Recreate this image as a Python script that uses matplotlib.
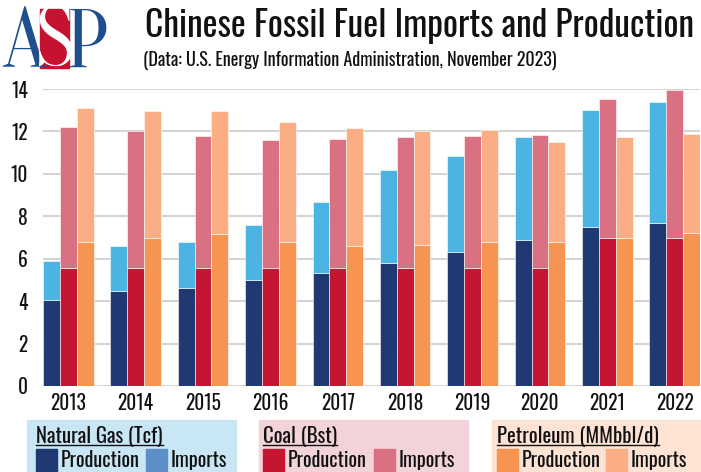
import matplotlib.pyplot as plt
from matplotlib.patches import Rectangle
from matplotlib.lines import Line2D
import numpy as np

years = ["2013", "2014", "2015", "2016", "2017", "2018", "2019", "2020", "2021", "2022"]

gas_prod = [4.06, 4.47, 4.61, 4.99, 5.35, 5.82, 6.31, 6.89, 7.49, 7.69]
gas_imp = [1.84, 2.12, 2.20, 2.61, 3.32, 4.34, 4.51, 4.85, 5.52, 5.70]
coal_prod = [5.58, 5.58, 5.58, 5.58, 5.58, 5.58, 5.58, 5.58, 7.00, 7.00]
coal_imp = [6.64, 6.44, 6.19, 6.01, 6.06, 6.16, 6.22, 6.27, 6.54, 6.95]
pet_prod = [6.78, 6.98, 7.16, 6.78, 6.62, 6.65, 6.80, 6.80, 6.98, 7.19]
pet_imp = [6.34, 6.00, 5.82, 5.65, 5.56, 5.38, 5.27, 4.71, 4.77, 4.70]

FONT = ["Oswald", "DejaVu Sans"]
INK = "#111111"

W, H = 701, 472
fig = plt.figure(figsize=(W / 100, H / 100), dpi=100)


def fx(px):
    return px / W


def fy(py):
    return 1 - py / H


ax = fig.add_axes([fx(43), fy(386), fx(700) - fx(43), fy(89) - fy(386)])

x = np.arange(len(years))
w = 0.25
series = [
    (x - w, gas_prod, gas_imp, "#1f3a72", "#4cb4e3"),
    (x, coal_prod, coal_imp, "#c41532", "#d97182"),
    (x + w, pet_prod, pet_imp, "#f79452", "#fbae84"),
]
for pos, prod, imp, c1, c2 in series:
    ax.bar(pos, prod, w, color=c1, edgecolor="white", linewidth=0.4, zorder=3)
    ax.bar(pos, imp, w, bottom=prod, color=c2, edgecolor="white", linewidth=0.4, zorder=3)

ax.set_xlim(-0.375, len(years) - 1 + 0.375)
ax.set_ylim(0, 14)
ax.set_yticks(range(0, 15, 2))
ax.set_xticks(x)
ax.set_xticklabels(years)
ax.grid(axis="y", color="#d4d4d4", linewidth=1.5, zorder=0)
for s in ax.spines.values():
    s.set_visible(False)
ax.tick_params(length=0)
ax.tick_params(axis="y", pad=11)
ax.tick_params(axis="x", pad=5)
for lab in ax.get_xticklabels() + ax.get_yticklabels():
    lab.set_family(FONT)
    lab.set_fontsize(14)
    lab.set_color(INK)

# logo
fig.patches.append(Rectangle((fx(40), fy(68)), fx(29), fy(9) - fy(68),
                             transform=fig.transFigure, color="#c41230", zorder=1))
logo = dict(family="Oranienbaum", fontsize=60, ha="center", va="baseline")
fig.text(fx(24), fy(67), "A", color="#1f4e8c", **logo)
fig.text(fx(54.5), fy(65), "S", color="white", **logo)
fig.text(fx(86), fy(67), "P", color="#1f4e8c", **logo)

# title
fig.text(fx(145), fy(37), "Chinese Fossil Fuel Imports and Production",
         family=FONT, fontsize=25.5, color=INK)
fig.text(fx(143), fy(66), "(Data: U.S. Energy Information Administration, November 2023)",
         family=FONT, fontsize=13, color=INK)

# legend panels: left, right, colour, header, swatch colours, swatch x positions
panels = [
    (27, 236, "#c9e6f5", "Natural Gas (Tcf)", "#1f3a72", "#5b8fc5", 36, 146),
    (259, 468, "#f3d3da", "Coal (Bst)", "#c41532", "#d97182", 263, 374),
    (492, 701, "#fde3d4", "Petroleum (MMbbl/d)", "#f79452", "#fbae84", 497, 606),
]
heads = []
for x0, x1, bg, head, c1, c2, sx1, sx2 in panels:
    fig.patches.append(Rectangle((fx(x0), 0), fx(x1) - fx(x0), fy(420),
                                 transform=fig.transFigure, color=bg, zorder=0))
    heads.append(fig.text(fx(sx1), fy(443), head, family=FONT, fontsize=15,
                          color=INK, zorder=2))
    for sx, c, lab in [(sx1, c1, "Production"), (sx2, c2, "Imports")]:
        fig.patches.append(Rectangle((fx(sx), 0), fx(21), fy(449),
                                     transform=fig.transFigure, color=c, zorder=1))
        fig.text(fx(sx + 25), fy(467), lab, family=FONT, fontsize=14.5,
                 color=INK, zorder=2)

# underline the legend headers
fig.canvas.draw()
inv = fig.transFigure.inverted()
for t in heads:
    bb = t.get_window_extent()
    (a0, _), (a1, _) = inv.transform([(bb.x0, 0), (bb.x1, 0)])
    fig.add_artist(Line2D([a0, a1], [fy(445), fy(445)], color=INK,
                          linewidth=1, transform=fig.transFigure))

fig.savefig("out.png", dpi=100)
